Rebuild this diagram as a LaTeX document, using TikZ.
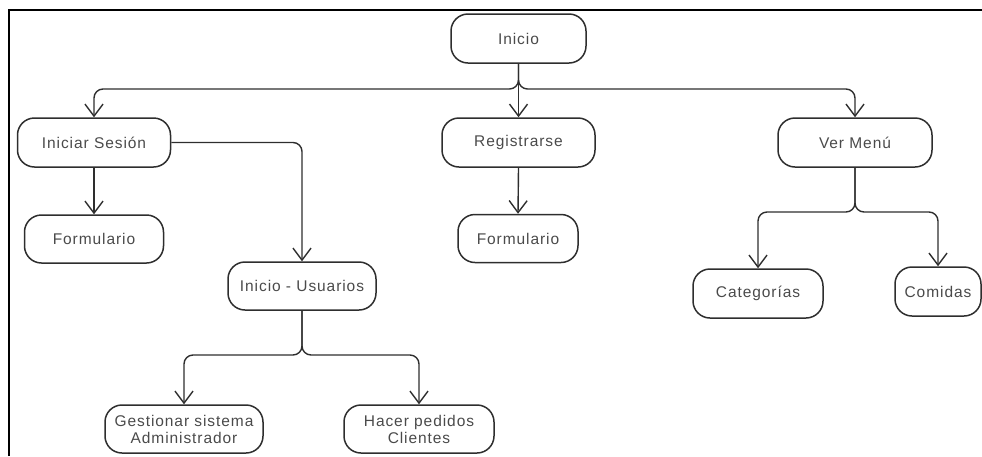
\documentclass[tikz,border=0pt]{standalone}
\usepackage{fontspec}
\setmainfont{Liberation Sans}[LetterSpace=6]
\usetikzlibrary{arrows.meta}
\definecolor{ln}{HTML}{2E2E2E}
\definecolor{tx}{HTML}{4A4A4A}
\begin{document}
\begin{tikzpicture}[x=1pt,y=-1pt,
  box/.style={draw=ln, line width=1.5pt, rounded corners=17pt, minimum height=49pt,
    inner sep=0pt, align=center, text=tx, font=\fontsize{15.5}{17}\selectfont},
  conn/.style={draw=ln, line width=1.4pt, rounded corners=9pt},
  arr/.style={conn, -{Straight Barb[length=12pt,width=18pt,line width=1.4pt]}}]
\useasboundingbox (0,0) rectangle (982,456);
\draw[line width=2pt] (9,456) -- (9,10) -- (983,10);

\node[box, minimum width=135pt] (inicio) at (518.5,38.5) {Inicio};
\node[box, minimum width=153pt] (ses) at (94,142.5) {Iniciar Sesión};
\node[box, minimum width=153pt] (reg) at (518.5,142.5) {Registrarse};
\node[box, minimum width=154pt] (menu) at (855,142.5) {Ver Menú};
\node[box, minimum width=139pt, minimum height=48pt] (formA) at (94,239) {Formulario};
\node[box, minimum width=120pt, minimum height=48pt] (formB) at (518,238.5) {Formulario};
\node[box, minimum width=148pt, minimum height=48pt] (usr) at (302,286) {Inicio - Usuarios};
\node[box, minimum width=158pt, minimum height=48pt] (gest) at (184,429) {Gestionar sistema\\Administrador};
\node[box, minimum width=150pt, minimum height=48pt] (hacer) at (419,429) {Hacer pedidos\\Clientes};
\node[box, minimum width=130pt] (cat) at (758,293.5) {Categorías};
\node[box, minimum width=86pt] (com) at (938,291.5) {Comidas};

\coordinate (j1) at (518.5,89);
\coordinate (j2) at (302,355);
\coordinate (j3) at (855,212);

\draw[arr] (inicio.south) -- (j1) -| (ses.north);
\draw[arr] (inicio.south) -- (reg.north);
\draw[arr] (inicio.south) -- (j1) -| (menu.north);
\draw[arr] (ses.south) -- (formA.north);
\draw[arr] (ses.east) -| (usr.north);
\draw[arr] (reg.south) -- (formB.north);
\draw[arr] (usr.south) -- (j2) -| (gest.north);
\draw[arr] (usr.south) -- (j2) -| (hacer.north);
\draw[arr] (menu.south) -- (j3) -| (cat.north);
\draw[arr] (menu.south) -- (j3) -| (com.north);
\end{tikzpicture}
\end{document}
